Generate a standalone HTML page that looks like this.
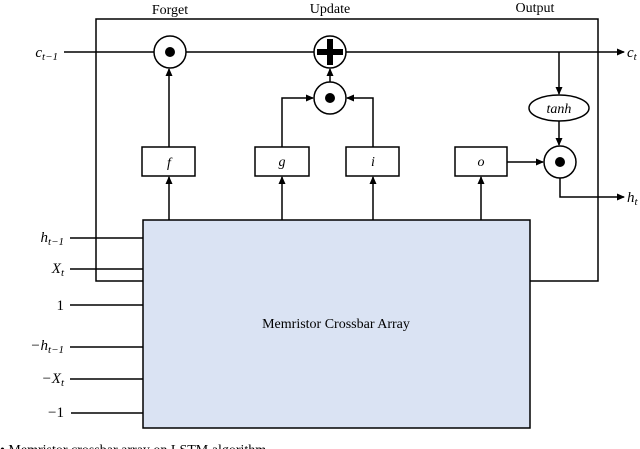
<!DOCTYPE html>
<html><head><style>body{margin:0;background:#fff}svg{display:block}</style></head><body>
<svg width="640" height="449" viewBox="0 0 640 449" xmlns="http://www.w3.org/2000/svg" font-family="Liberation Serif, serif">
<defs><marker id="a" markerWidth="8" markerHeight="8" refX="7" refY="4" orient="auto" markerUnits="userSpaceOnUse"><path d="M0,0.5 L8,4 L0,7.5z" fill="#000"/></marker></defs>
<g stroke="#000" stroke-width="1.5" fill="none">
<polyline points="143,281 96,281 96,19 598,19 598,281 530,281"/>
<line x1="64" y1="52" x2="154" y2="52"/>
<line x1="186" y1="52" x2="314" y2="52"/>
<line x1="346" y1="52" x2="624" y2="52" marker-end="url(#a)"/>
<line x1="559" y1="52" x2="559" y2="94" marker-end="url(#a)"/>
<line x1="559" y1="121" x2="559" y2="145" marker-end="url(#a)"/>
<polyline points="560,178 560,197 624,197" marker-end="url(#a)"/>
<line x1="169" y1="147" x2="169" y2="69" marker-end="url(#a)"/>
<line x1="330" y1="82" x2="330" y2="69" marker-end="url(#a)"/>
<polyline points="282,147 282,98 313,98" marker-end="url(#a)"/>
<polyline points="373,147 373,98 347,98" marker-end="url(#a)"/>
<line x1="507" y1="162" x2="543" y2="162" marker-end="url(#a)"/>
<line x1="169" y1="220" x2="169" y2="177" marker-end="url(#a)"/>
<line x1="282" y1="220" x2="282" y2="177" marker-end="url(#a)"/>
<line x1="373" y1="220" x2="373" y2="177" marker-end="url(#a)"/>
<line x1="481" y1="220" x2="481" y2="177" marker-end="url(#a)"/>
<line x1="70" y1="238" x2="143" y2="238"/>
<line x1="70" y1="269" x2="143" y2="269"/>
<line x1="70" y1="305" x2="143" y2="305"/>
<line x1="70" y1="347" x2="143" y2="347"/>
<line x1="70" y1="379" x2="143" y2="379"/>
<line x1="71" y1="413" x2="143" y2="413"/>
</g>
<rect x="143" y="220" width="387" height="208" fill="#dae3f3" stroke="#000" stroke-width="1.5"/>
<g fill="#fff" stroke="#000" stroke-width="1.5">
<circle cx="170" cy="52" r="16"/><circle cx="330" cy="52" r="16"/><circle cx="330" cy="98" r="16"/><circle cx="560" cy="162" r="16"/>
<ellipse cx="559" cy="108" rx="30" ry="13"/>
<rect x="142" y="147" width="53" height="29"/><rect x="255" y="147" width="54" height="29"/><rect x="346" y="147" width="53" height="29"/><rect x="455" y="147" width="52" height="29"/>
</g>
<g fill="#000"><circle cx="170" cy="52" r="5"/><circle cx="330" cy="98" r="5"/><circle cx="560" cy="162" r="5"/>
<rect x="317" y="49" width="26" height="6"/><rect x="327" y="39" width="6" height="26"/></g>
<g font-size="14" text-anchor="middle">
<text x="170" y="14">Forget</text><text x="330" y="13">Update</text><text x="535" y="12">Output</text>
<text x="336" y="328">Memristor Crossbar Array</text>
<g font-style="italic"><text x="169" y="167">f</text><text x="282" y="166">g</text><text x="373" y="166">i</text><text x="481" y="166">o</text><text x="559" y="113">tanh</text></g>
</g>
<g font-size="15" font-style="italic" text-anchor="end">
<text x="58" y="57">c<tspan font-size="11" dy="3">t−1</tspan></text>
<text x="64" y="242">h<tspan font-size="11" dy="3">t−1</tspan></text>
<text x="64" y="273">X<tspan font-size="11" dy="3">t</tspan></text>
<text x="64" y="310" font-style="normal">1</text>
<text x="64" y="350">−h<tspan font-size="11" dy="3">t−1</tspan></text>
<text x="64" y="383">−X<tspan font-size="11" dy="3">t</tspan></text>
<text x="64" y="417" font-style="normal">−1</text>
</g>
<g font-size="15" font-style="italic">
<text x="627" y="57">c<tspan font-size="11" dy="3">t</tspan></text>
<text x="627" y="202">h<tspan font-size="11" dy="3">t</tspan></text>
</g>
<text x="0" y="454" font-size="14">• Memristor crossbar array on LSTM algorithm</text>
</svg>
</body></html>
